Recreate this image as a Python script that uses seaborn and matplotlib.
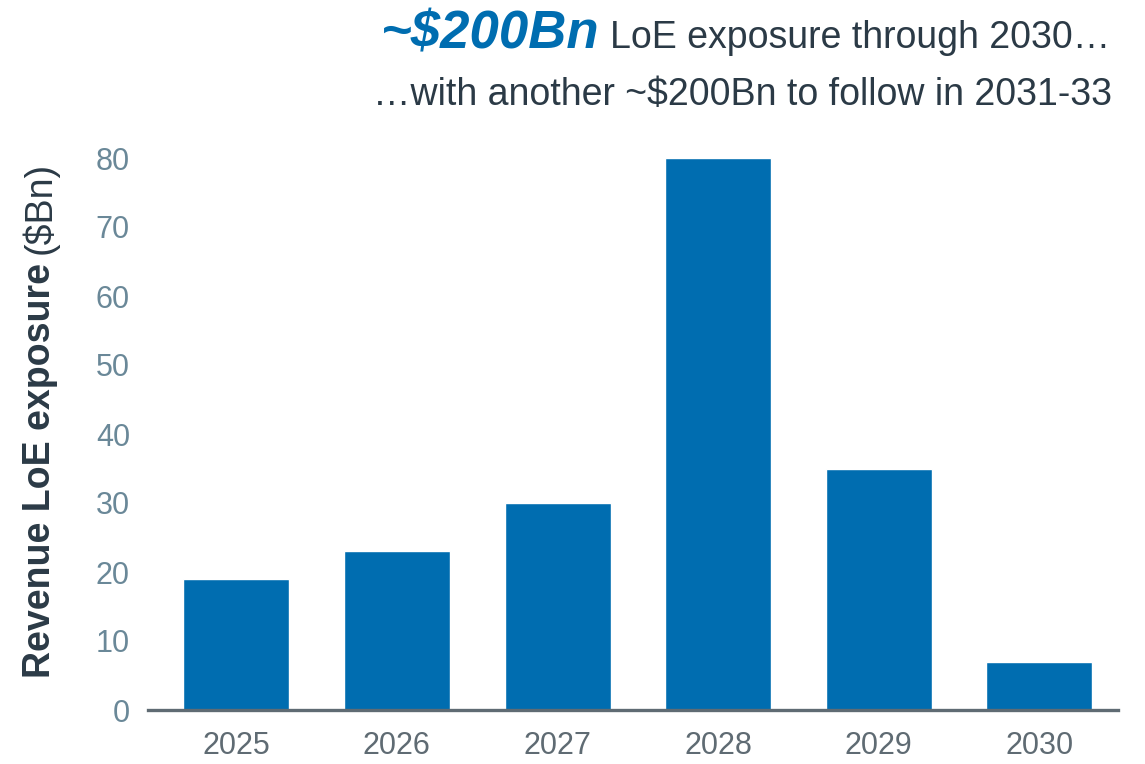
import matplotlib
matplotlib.use("Agg")
import matplotlib.pyplot as plt
import seaborn as sns
import pandas as pd

years = ["2025", "2026", "2027", "2028", "2029", "2030"]
exposure = [19, 23, 30, 80, 35, 7]
y_ticks = [0, 10, 20, 30, 40, 50, 60, 70, 80]

sns.set_theme(style="white")
plt.rcParams['font.family'] = ['Liberation Sans', 'DejaVu Sans']

W, H = 1145, 764
fig = plt.figure(figsize=(W / 100, H / 100), dpi=100)
ax = fig.add_axes([148 / W, (H - 710) / H, 970 / W, (710 - 158) / H])

df = pd.DataFrame({"year": years, "value": exposure})
sns.barplot(data=df, x="year", y="value", color="#006DB0", saturation=1,
            width=0.66, ax=ax)

ax.set_xlim(-0.55, 5.49)
ax.set_ylim(0, 80)
ax.set_yticks(y_ticks)
ax.set_yticklabels([str(t) for t in y_ticks], color="#6A8898", fontsize=22)
ax.tick_params(axis="y", length=0, pad=13)
ax.tick_params(axis="x", length=0, pad=15, labelsize=22, labelcolor="#5F6B73")
for lab in ax.get_yticklabels():
    lab.set_clip_on(False)

for s in ["top", "right", "left"]:
    ax.spines[s].set_visible(False)
ax.spines["bottom"].set_color("#5F6B73")
ax.spines["bottom"].set_linewidth(2.4)
ax.set_xlabel("")
ax.set_ylabel("")

fig.canvas.draw()
renderer = fig.canvas.get_renderer()

# y label: bold part + normal part
t1 = fig.text(40 / W, 1 - 678 / H, "Revenue LoE exposure", rotation=90, fontsize=27,
              fontweight="bold", color="#2B3A46", ha="center", va="bottom")
bb = t1.get_window_extent(renderer)
fig.text(40 / W, (bb.y1 + 9) / H, "($Bn)", rotation=90, fontsize=27,
         color="#2B3A46", ha="center", va="bottom")

# title lines, right aligned
t_rest = fig.text(1110 / W, 1 - 48 / H, "LoE exposure through 2030…", fontsize=27,
                  color="#2B3A46", ha="right", va="baseline")
bb2 = t_rest.get_window_extent(renderer)
fig.text((bb2.x0 - 10) / W, 1 - 48 / H, "~$200Bn", fontsize=38, fontweight="bold",
         fontstyle="italic", color="#006DB0", ha="right", va="baseline")
fig.text(1112 / W, 1 - 105 / H, "…with another ~$200Bn to follow in 2031-33",
         fontsize=27, color="#2B3A46", ha="right", va="baseline")

fig.savefig("out.png", dpi=100)
